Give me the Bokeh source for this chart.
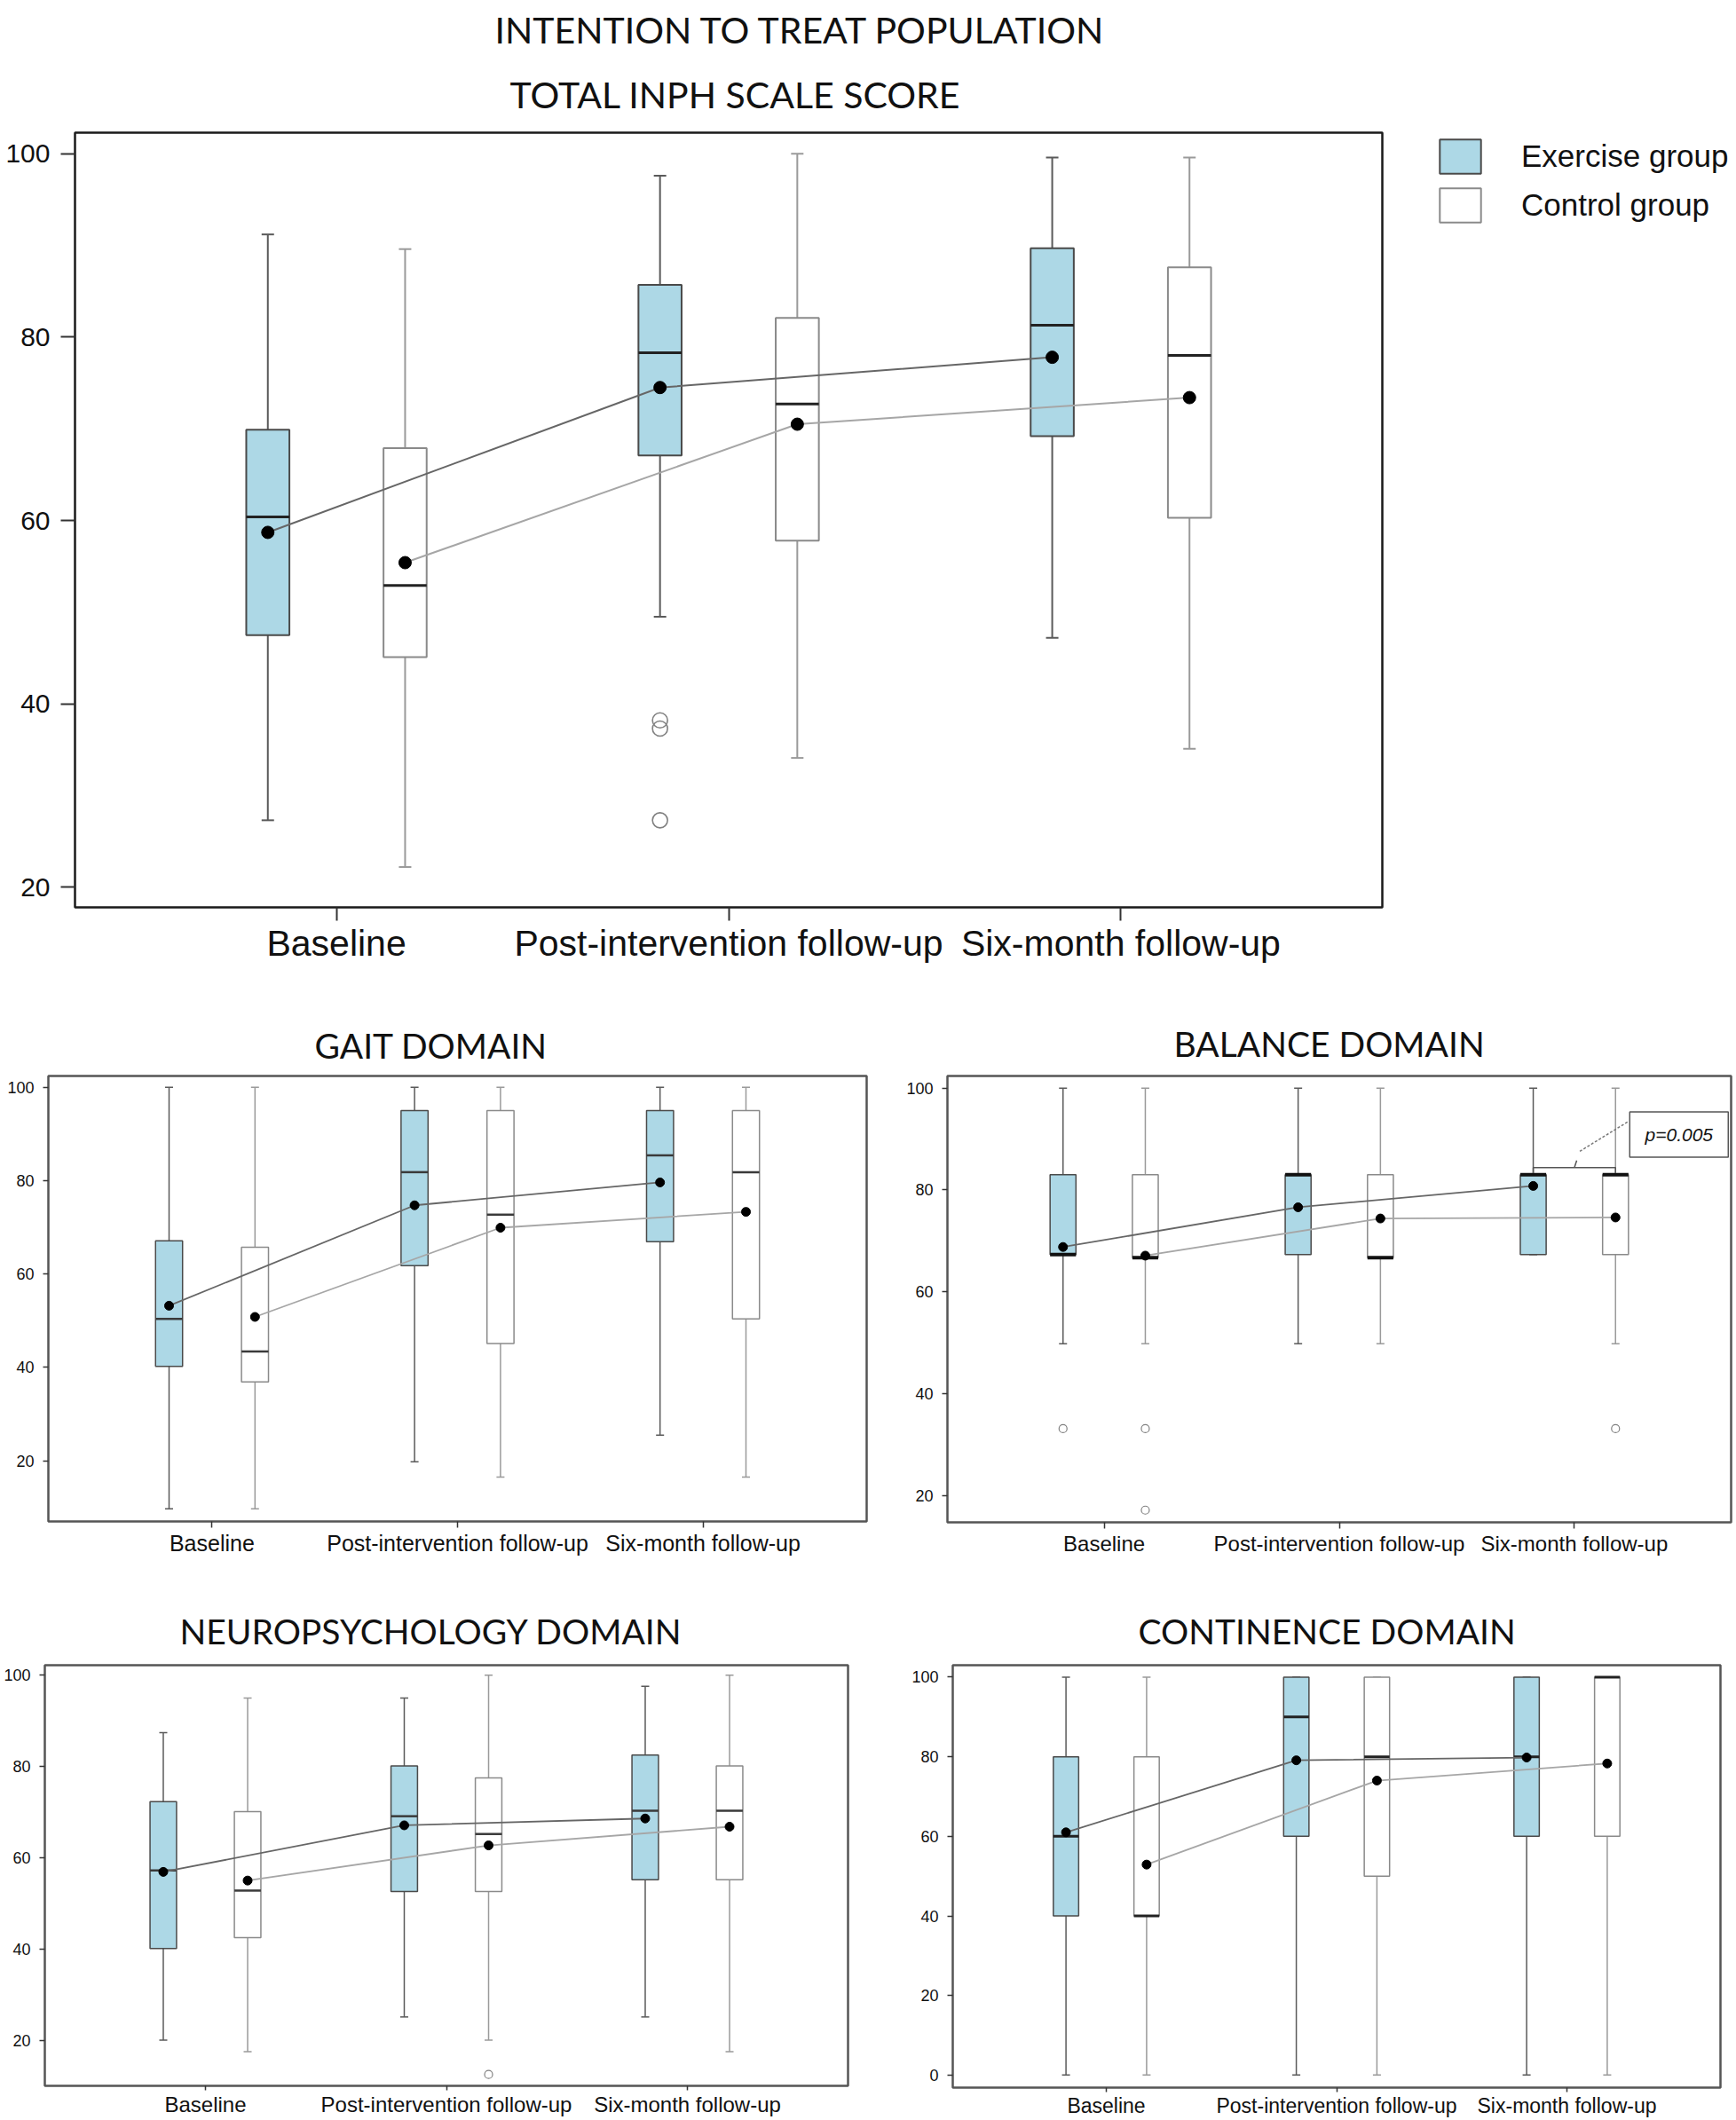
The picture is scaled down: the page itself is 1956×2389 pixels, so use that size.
from bokeh.plotting import figure
from bokeh.models import (ColumnDataSource, FactorRange, Range1d, FixedTicker,
                          Title, Legend, LegendItem)
from bokeh.transform import dodge
from bokeh.layouts import column, row
from bokeh.embed import file_html
from bokeh.resources import INLINE
from bokeh.core.properties import value

# ---------------------------------------------------------------- data
TIMEPOINTS = ["Baseline", "Post-intervention follow-up", "Six-month follow-up"]
GROUPS = ["Exercise group", "Control group"]
Y_TICKS = [20, 40, 60, 80, 100]
Y_TICKS_CONTINENCE = [0, 20, 40, 60, 80, 100]

# Total iNPH scale score
TOTAL_EX_LOW = [27.3, 49.5, 47.2]
TOTAL_EX_Q1 = [47.5, 67.1, 69.2]
TOTAL_EX_MED = [60.4, 78.3, 81.3]
TOTAL_EX_Q3 = [69.9, 85.7, 89.7]
TOTAL_EX_HIGH = [91.2, 97.6, 99.6]
TOTAL_EX_MEAN = [58.7, 74.5, 77.8]
TOTAL_EX_OUT_AT = ["Post-intervention follow-up", "Post-intervention follow-up", "Post-intervention follow-up"]
TOTAL_EX_OUT = [38.2, 37.3, 27.3]
TOTAL_CT_LOW = [22.2, 34.1, 35.1]
TOTAL_CT_Q1 = [45.1, 57.8, 60.3]
TOTAL_CT_MED = [52.9, 72.7, 78.0]
TOTAL_CT_Q3 = [67.9, 82.1, 87.6]
TOTAL_CT_HIGH = [89.6, 100.0, 99.6]
TOTAL_CT_MEAN = [55.4, 70.5, 73.4]
TOTAL_CT_OUT_AT = []
TOTAL_CT_OUT = []

# Gait domain
GAIT_EX_LOW = [9.7, 19.8, 25.5]
GAIT_EX_Q1 = [40.2, 61.8, 66.9]
GAIT_EX_MED = [50.4, 81.8, 85.4]
GAIT_EX_Q3 = [67.1, 95.0, 95.0]
GAIT_EX_HIGH = [100.0, 100.0, 100.0]
GAIT_EX_MEAN = [53.2, 74.7, 79.6]
GAIT_EX_OUT_AT = []
GAIT_EX_OUT = []
GAIT_CT_LOW = [9.7, 16.5, 16.5]
GAIT_CT_Q1 = [36.9, 45.1, 50.4]
GAIT_CT_MED = [43.4, 72.7, 81.8]
GAIT_CT_Q3 = [65.7, 95.0, 95.0]
GAIT_CT_HIGH = [100.0, 100.0, 100.0]
GAIT_CT_MEAN = [50.8, 69.9, 73.3]
GAIT_CT_OUT_AT = []
GAIT_CT_OUT = []

# Balance domain
BAL_EX_LOW = [49.8, 49.8, 67.3]
BAL_EX_Q1 = [67.3, 67.3, 67.3]
BAL_EX_MED = [67.3, 83.0, 83.0]
BAL_EX_Q3 = [83.0, 83.0, 83.0]
BAL_EX_HIGH = [100.0, 100.0, 100.0]
BAL_EX_MEAN = [68.8, 76.6, 80.8]
BAL_EX_OUT_AT = ["Baseline"]
BAL_EX_OUT = [33.1]
BAL_CT_LOW = [49.8, 49.8, 49.8]
BAL_CT_Q1 = [66.7, 66.7, 67.3]
BAL_CT_MED = [66.7, 66.7, 83.0]
BAL_CT_Q3 = [83.0, 83.0, 83.0]
BAL_CT_HIGH = [100.0, 100.0, 100.0]
BAL_CT_MEAN = [67.1, 74.4, 74.6]
BAL_CT_OUT_AT = ["Baseline", "Baseline", "Six-month follow-up"]
BAL_CT_OUT = [33.1, 17.1, 33.1]
BAL_P_TEXT = "p=0.005"
BAL_P_LEVEL = 84.4

# Neuropsychology domain
NEURO_EX_LOW = [20.0, 25.1, 25.1]
NEURO_EX_Q1 = [40.1, 52.6, 55.2]
NEURO_EX_MED = [57.2, 69.1, 70.3]
NEURO_EX_Q3 = [72.3, 80.1, 82.5]
NEURO_EX_HIGH = [87.4, 95.0, 97.6]
NEURO_EX_MEAN = [56.9, 67.1, 68.6]
NEURO_EX_OUT_AT = []
NEURO_EX_OUT = []
NEURO_CT_LOW = [17.5, 20.0, 17.5]
NEURO_CT_Q1 = [42.5, 52.6, 55.2]
NEURO_CT_MED = [52.8, 65.2, 70.3]
NEURO_CT_Q3 = [70.1, 77.5, 80.1]
NEURO_CT_HIGH = [95.0, 100.0, 100.0]
NEURO_CT_MEAN = [55.0, 62.7, 66.8]
NEURO_CT_OUT_AT = ["Post-intervention follow-up"]
NEURO_CT_OUT = [12.5]

# Continence domain
CONT_EX_LOW = [0.0, 0.0, 0.0]
CONT_EX_Q1 = [40.0, 60.0, 60.0]
CONT_EX_MED = [60.0, 90.0, 80.0]
CONT_EX_Q3 = [80.0, 100.0, 100.0]
CONT_EX_HIGH = [100.0, 100.0, 100.0]
CONT_EX_MEAN = [61.0, 79.1, 79.8]
CONT_EX_OUT_AT = []
CONT_EX_OUT = []
CONT_CT_LOW = [0.0, 0.0, 0.0]
CONT_CT_Q1 = [40.0, 50.0, 60.0]
CONT_CT_MED = [40.0, 80.0, 100.0]
CONT_CT_Q3 = [80.0, 100.0, 100.0]
CONT_CT_HIGH = [100.0, 100.0, 100.0]
CONT_CT_MEAN = [52.9, 74.0, 78.3]
CONT_CT_OUT_AT = []
CONT_CT_OUT = []

# ---------------------------------------------------------------- style
EX_FILL = "#add8e6"
CT_FILL = "#ffffff"
EX_BOX_LINE = "#4a4a4a"
CT_BOX_LINE = "#8a8a8a"
EX_WHISK = "#5a5a5a"
CT_WHISK = "#9a9a9a"
EX_MEAN_LINE = "#666666"
CT_MEAN_LINE = "#a6a6a6"
OUT_COLOR = "#808080"
TITLE_FONT = "Lato"
AXIS_FONT = "Liberation Sans"
OFFSET = 0.175
BOX_W = 0.11


def draw_group(p, lo, q1, med, q3, hi, offset, fill, box_line, whisk, st):
    src = ColumnDataSource(dict(t=TIMEPOINTS, lo=lo, q1=q1, med=med, q3=q3, hi=hi))
    xc = dodge("t", offset, range=p.x_range)
    p.segment(x0=xc, y0="lo", x1=xc, y1="q1", source=src, line_color=whisk, line_width=st["lw"])
    p.segment(x0=xc, y0="q3", x1=xc, y1="hi", source=src, line_color=whisk, line_width=st["lw"])
    p.scatter(x=xc, y="lo", source=src, marker="dash", size=st["cap"], line_color=whisk,
              line_width=st["lw"])
    p.scatter(x=xc, y="hi", source=src, marker="dash", size=st["cap"], line_color=whisk,
              line_width=st["lw"])
    box = p.vbar(x=xc, width=BOX_W, bottom="q1", top="q3", source=src, fill_color=fill,
                 line_color=box_line, line_width=st["lw"])
    p.segment(x0=dodge("t", offset - BOX_W / 2, range=p.x_range), y0="med",
              x1=dodge("t", offset + BOX_W / 2, range=p.x_range), y1="med", source=src,
              line_color=st["med_col"], line_width=st["med_w"])
    return box


def draw_means_outliers(p, mean, out_at, out, offset, line_col, st):
    src = ColumnDataSource(dict(t=TIMEPOINTS, mean=mean))
    xc = dodge("t", offset, range=p.x_range)
    p.line(x=xc, y="mean", source=src, line_color=line_col, line_width=st["mean_w"])
    osrc = ColumnDataSource(dict(t=out_at, v=out))
    p.scatter(x=dodge("t", offset, range=p.x_range), y="v", source=osrc, marker="circle",
              size=st["out"], fill_color=None, line_color=OUT_COLOR, line_width=st["lw"] * 0.8)
    return src


def panel(title, y_lo, y_hi, ticks, ex, ct, g, st):
    p = figure(x_range=FactorRange(factors=TIMEPOINTS, range_padding=1 / 6,
                                   range_padding_units="absolute"),
               y_range=Range1d(y_lo, y_hi),
               frame_width=g["fw"], frame_height=g["fh"],
               min_border_left=g["bl"], min_border_right=g["br"],
               min_border_top=g["bt"], min_border_bottom=g["bb"],
               output_backend="svg", toolbar_location=None, title=None)
    p.xgrid.visible = False
    p.ygrid.visible = False
    p.outline_line_color = st["outline"]
    p.outline_line_width = st["outline_w"]
    p.background_fill_color = "white"
    p.border_fill_color = "white"
    for ax in (p.xaxis[0], p.yaxis[0]):
        ax.axis_line_color = None
        ax.major_tick_in = 0
        ax.minor_tick_line_color = None
        ax.major_tick_line_color = "#333333"
        ax.major_tick_line_width = st["lw"]
        ax.major_label_text_font = AXIS_FONT
        ax.major_label_text_color = "#111111"
    p.xaxis.major_tick_out = st["xtick"]
    p.xaxis.major_label_text_font_size = st["xfont"]
    p.xaxis.major_label_standoff = st["xstand"]
    p.yaxis.major_tick_out = st["ytick"]
    p.yaxis.major_label_text_font_size = st["yfont"]
    p.yaxis.major_label_standoff = st["ystand"]
    p.yaxis.ticker = FixedTicker(ticks=ticks)

    ex_box = draw_group(p, *ex[:5], -OFFSET, EX_FILL, EX_BOX_LINE, EX_WHISK, st)
    ct_box = draw_group(p, *ct[:5], OFFSET, CT_FILL, CT_BOX_LINE, CT_WHISK, st)
    s_ex = draw_means_outliers(p, ex[5], ex[6], ex[7], -OFFSET, EX_MEAN_LINE, st)
    s_ct = draw_means_outliers(p, ct[5], ct[6], ct[7], OFFSET, CT_MEAN_LINE, st)
    for s, off in ((s_ex, -OFFSET), (s_ct, OFFSET)):
        p.scatter(x=dodge("t", off, range=p.x_range), y="mean", source=s, marker="circle",
                  size=st["dot"], fill_color="black", line_color="black")

    p.add_layout(Title(text=title, align="left", offset=g["toff"], standoff=g["tstand"],
                       text_font=TITLE_FONT, text_font_size=st["tfont"],
                       text_font_style="normal", text_color="#111111"), "above")
    return p, ex_box, ct_box


MAIN_ST = dict(lw=2, cap=14, dot=14, out=17, med_w=3, med_col="#222222", mean_w=2,
               outline="#1a1a1a", outline_w=2.5, xtick=15, xfont="41px", xstand=2,
               ytick=16, yfont="30px", ystand=12, tfont="41px")
SUB_ST = dict(lw=1.5, cap=9, dot=10, out=9, med_w=2.5, med_col="#3a3a3a", mean_w=1.8,
              outline="#555555", outline_w=2.5, xtick=7, xfont="25px", xstand=3,
              ytick=6, yfont="18px", ystand=10, tfont="39px")
BAL_ST = dict(SUB_ST, med_col="#111111", med_w=4, xfont="24px")
CONT_ST = dict(SUB_ST, med_col="#222222", med_w=3)
LOW_ST = dict(SUB_ST, xfont="24px", xtick=5, xstand=2)
LOW_CONT_ST = dict(CONT_ST, xfont="23px", xtick=5, xstand=2)

main, main_ex, main_ct = panel(
    "TOTAL INPH SCALE SCORE", 17.8, 102.3, Y_TICKS,
    (TOTAL_EX_LOW, TOTAL_EX_Q1, TOTAL_EX_MED, TOTAL_EX_Q3, TOTAL_EX_HIGH, TOTAL_EX_MEAN, TOTAL_EX_OUT_AT, TOTAL_EX_OUT),
    (TOTAL_CT_LOW, TOTAL_CT_Q1, TOTAL_CT_MED, TOTAL_CT_Q3, TOTAL_CT_HIGH, TOTAL_CT_MEAN, TOTAL_CT_OUT_AT, TOTAL_CT_OUT),
    dict(fw=1473, fh=873, bl=84, br=399, bt=149, bb=108, toff=490, tstand=38), MAIN_ST)
main.add_layout(Title(text="INTENTION TO TREAT POPULATION", align="left", offset=473, standoff=5,
                      text_font=TITLE_FONT, text_font_size="41px", text_font_style="normal",
                      text_color="#111111"), "above")
legend = Legend(items=[LegendItem(label=GROUPS[0], renderers=[main_ex]),
                       LegendItem(label=GROUPS[1], renderers=[main_ct])],
                location=(59, 767), glyph_width=58, glyph_height=48, label_standoff=40,
                spacing=7, padding=0, margin=0, border_line_color=None,
                background_fill_alpha=0, label_text_font=AXIS_FONT,
                label_text_font_size="35px", label_text_color="#111111")
main.add_layout(legend, "right")

gait, _, _ = panel(
    "GAIT DOMAIN", 7.0, 102.4, Y_TICKS,
    (GAIT_EX_LOW, GAIT_EX_Q1, GAIT_EX_MED, GAIT_EX_Q3, GAIT_EX_HIGH, GAIT_EX_MEAN, GAIT_EX_OUT_AT, GAIT_EX_OUT),
    (GAIT_CT_LOW, GAIT_CT_Q1, GAIT_CT_MED, GAIT_CT_Q3, GAIT_CT_HIGH, GAIT_CT_MEAN, GAIT_CT_OUT_AT, GAIT_CT_OUT),
    dict(fw=922, fh=502, bl=54, br=4, bt=77, bb=81, toff=300, tstand=24), SUB_ST)

bal, _, _ = panel(
    "BALANCE DOMAIN", 14.7, 102.4, Y_TICKS,
    (BAL_EX_LOW, BAL_EX_Q1, BAL_EX_MED, BAL_EX_Q3, BAL_EX_HIGH, BAL_EX_MEAN, BAL_EX_OUT_AT, BAL_EX_OUT),
    (BAL_CT_LOW, BAL_CT_Q1, BAL_CT_MED, BAL_CT_Q3, BAL_CT_HIGH, BAL_CT_MEAN, BAL_CT_OUT_AT, BAL_CT_OUT),
    dict(fw=883, fh=503, bl=87, br=6, bt=82, bb=75, toff=255, tstand=28), BAL_ST)
# significance bracket between the six-month groups
six = TIMEPOINTS[2]
bal.line(x=[(six, -OFFSET), (six, -OFFSET), (six, OFFSET), (six, OFFSET)],
         y=[BAL_P_LEVEL - 1.1, BAL_P_LEVEL, BAL_P_LEVEL, BAL_P_LEVEL - 1.1],
         line_color="#555555", line_width=1.5)
bal.line(x=[(six, 0.0), (six, 0.01)], y=[BAL_P_LEVEL, BAL_P_LEVEL + 1.4],
         line_color="#555555", line_width=1.5)
bal.line(x=[(six, 0.023), (six, 0.231)], y=[BAL_P_LEVEL + 3.2, BAL_P_LEVEL + 9.1],
         line_color="#777777", line_width=1.5, line_dash="3 2")
bal.rect(x=[(six, 0.445)], y=[BAL_P_LEVEL + 6.5], width=111, height=51, width_units="screen",
         height_units="screen", fill_color="white", line_color="#555555", line_width=1.5)
bal.text(x=[(six, 0.445)], y=[BAL_P_LEVEL + 6.5], text=[BAL_P_TEXT], text_align="center",
         text_baseline="middle", text_font=value(AXIS_FONT), text_font_size="21px",
         text_font_style="italic", text_color="#111111")

neuro, _, _ = panel(
    "NEUROPSYCHOLOGY DOMAIN", 10.0, 102.2, Y_TICKS,
    (NEURO_EX_LOW, NEURO_EX_Q1, NEURO_EX_MED, NEURO_EX_Q3, NEURO_EX_HIGH, NEURO_EX_MEAN, NEURO_EX_OUT_AT, NEURO_EX_OUT),
    (NEURO_CT_LOW, NEURO_CT_Q1, NEURO_CT_MED, NEURO_CT_Q3, NEURO_CT_HIGH, NEURO_CT_MEAN, NEURO_CT_OUT_AT, NEURO_CT_OUT),
    dict(fw=905, fh=474, bl=50, br=25, bt=86, bb=37, toff=152, tstand=31), LOW_ST)

cont, _, _ = panel(
    "CONTINENCE DOMAIN", -3.15, 103.0, Y_TICKS_CONTINENCE,
    (CONT_EX_LOW, CONT_EX_Q1, CONT_EX_MED, CONT_EX_Q3, CONT_EX_HIGH, CONT_EX_MEAN, CONT_EX_OUT_AT, CONT_EX_OUT),
    (CONT_CT_LOW, CONT_CT_Q1, CONT_CT_MED, CONT_CT_Q3, CONT_CT_HIGH, CONT_CT_MEAN, CONT_CT_OUT_AT, CONT_CT_OUT),
    dict(fw=865, fh=476, bl=93, br=18, bt=86, bb=35, toff=209, tstand=31), LOW_CONT_ST)

layout = column(main, row(gait, bal), row(neuro, cont))
open("out.html", "w").write(file_html(layout, INLINE))
